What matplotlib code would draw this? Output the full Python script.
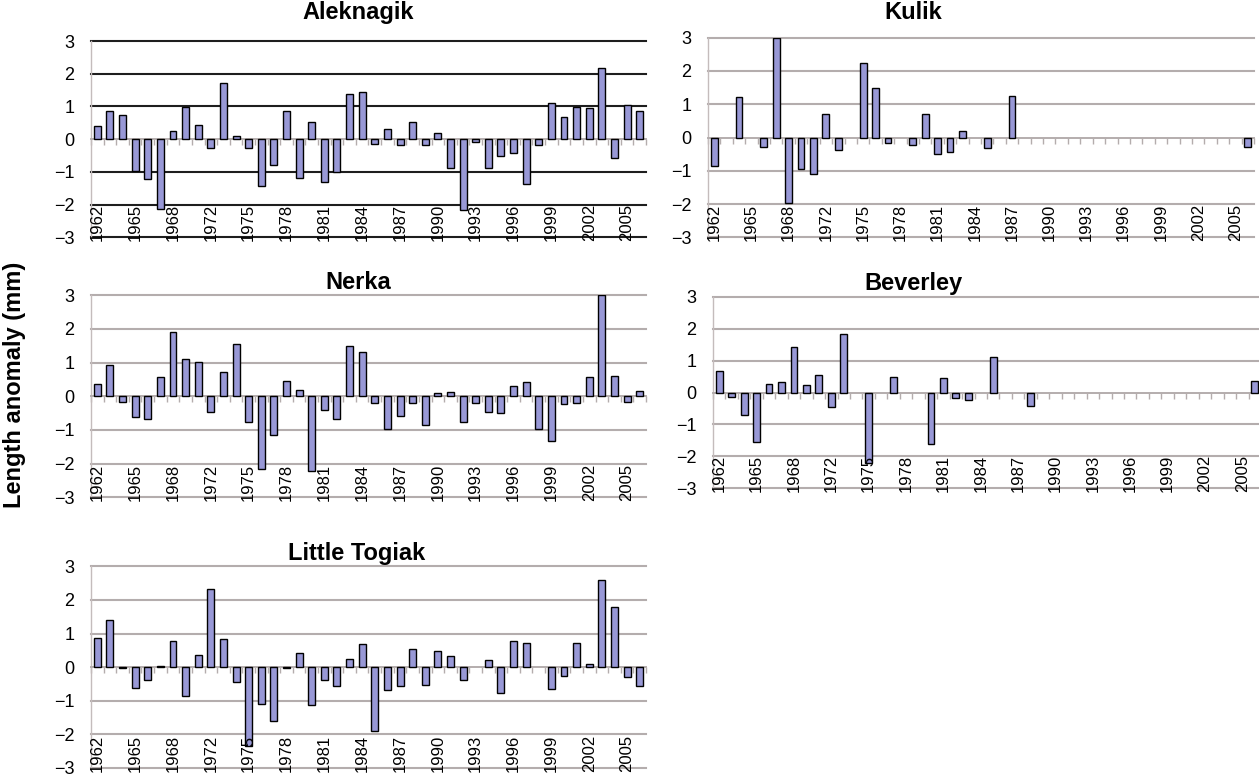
import numpy as np
import matplotlib
matplotlib.use('Agg')
import matplotlib.pyplot as plt

plt.rcParams['font.family'] = ['Liberation Sans', 'DejaVu Sans']

nan = np.nan

# category axis: one sampling year per bar (no 1970 sample)
years = list(range(1962, 1970)) + list(range(1971, 2007))

# length anomaly (mm) per lake, one value per year above
aleknagik = [0.41, 0.87, 0.73, -0.97, -1.22, -2.12, 0.24, 0.97, 0.44, -0.26,
	1.73, 0.10, -0.26, -1.44, -0.80, 0.87, -1.19, 0.53, -1.31, -1.00,
	1.37, 1.43, -0.14, 0.32, -0.18, 0.52, -0.18, 0.19, -0.88, -2.17,
	-0.08, -0.87, -0.51, -0.41, -1.36, -0.19, 1.12, 0.69, 0.98, 0.94,
	2.16, -0.57, 1.04, 0.87]

kulik = [-0.87, nan, 1.23, nan, -0.29, 3.00, -1.98, -0.94, -1.09, 0.70,
	-0.39, nan, 2.25, 1.50, -0.17, nan, -0.23, 0.70, -0.51, -0.45,
	0.19, nan, -0.33, nan, 1.24, nan, nan, nan, nan, nan,
	nan, nan, nan, nan, nan, nan, nan, nan, nan, nan,
	nan, nan, nan, -0.28]

nerka = [0.38, 0.94, -0.18, -0.62, -0.66, 0.56, 1.90, 1.10, 1.03, -0.48,
	0.71, 1.54, -0.77, -2.16, -1.14, 0.46, 0.19, -2.21, -0.40, -0.67,
	1.48, 1.31, -0.21, -0.97, -0.58, -0.21, -0.86, 0.11, 0.12, -0.75,
	-0.21, -0.46, -0.49, 0.30, 0.42, -0.96, -1.33, -0.23, -0.19, 0.56,
	3.00, 0.60, -0.18, 0.17]

beverley = [0.68, -0.13, -0.71, -1.55, 0.28, 0.33, 1.41, 0.23, 0.54, -0.44,
	1.84, nan, -2.22, nan, 0.47, nan, nan, -1.62, 0.46, -0.18,
	-0.23, nan, 1.12, nan, nan, -0.42, nan, nan, nan, nan,
	nan, nan, nan, nan, nan, nan, nan, nan, nan, nan,
	nan, nan, nan, 0.36]

littleTogiak = [0.88, 1.39, -0.03, -0.61, -0.37, 0.03, 0.77, -0.86, 0.36, 2.33,
	0.84, -0.44, -2.36, -1.09, -1.60, -0.02, 0.42, -1.14, -0.39, -0.56,
	0.24, 0.69, -1.90, -0.69, -0.56, 0.55, -0.53, 0.49, 0.33, -0.39,
	nan, 0.21, -0.76, 0.77, 0.73, nan, -0.64, -0.25, 0.71, 0.10,
	2.59, 1.79, -0.30, -0.56]

W, H = 1259, 776
BAR_COLOR = '#9898d6'
GRID_GRAY = '#b4adad'

fig = plt.figure(figsize=(W / 100, H / 100), dpi=100)

# rect given in pixels: left, top, right, bottom
def pxRect(left, top, right, bottom):
	return [left / W, 1 - bottom / H, (right - left) / W, (bottom - top) / H]

def drawPanel(rect, title, titleXY, values, gridColor):
	ax = fig.add_axes(pxRect(*rect))
	x = np.arange(len(years))
	ax.bar(x, values, width=0.55, color=BAR_COLOR, edgecolor='black',
		linewidth=1.0, zorder=3)
	ax.set_xlim(-0.5, len(years) - 0.5)
	ax.set_ylim(-3, 3)

	for y in [-3, -2, -1, 1, 2, 3]:
		ax.axhline(y, color=gridColor, lw=1.5, zorder=1, clip_on=False)

	# category axis sits on the zero line with ticks between bars
	ax.spines['bottom'].set_position(('data', 0))
	ax.spines['bottom'].set_color(GRID_GRAY)
	ax.spines['bottom'].set_linewidth(1.4)
	ax.spines['left'].set_color('#c4bcbc')
	ax.spines['left'].set_linewidth(1.0)
	ax.spines['top'].set_visible(False)
	ax.spines['right'].set_visible(False)
	ax.set_xticks(np.arange(-0.5, len(years), 1.0))
	ax.set_xticklabels([])
	ax.tick_params(axis='x', direction='out', length=4, width=1, color=GRID_GRAY)

	ax.set_yticks(range(-3, 4))
	ax.tick_params(axis='y', length=0, pad=12, labelsize=13)

	for i in range(0, len(years), 3):
		ax.text(i, -3.12, str(years[i]), rotation=90, ha='center', va='bottom',
			fontsize=12, zorder=4, clip_on=False)

	fig.text(titleXY[0] / W, 1 - titleXY[1] / H, title, ha='center',
		va='baseline', fontsize=17, fontweight='bold')
	return ax

drawPanel((91, 41, 646, 237.3), 'Aleknagik', (358, 19), aleknagik, '#1e1e1e')
drawPanel((708, 37.7, 1254, 237.3), 'Kulik', (913, 19), kulik, GRID_GRAY)
drawPanel((91, 295.3, 646, 497.3), 'Nerka', (358, 289), nerka, GRID_GRAY)
drawPanel((713, 296.7, 1261, 488.3), 'Beverley', (913, 290), beverley, GRID_GRAY)
drawPanel((91, 566.3, 646, 768), 'Little Togiak', (357, 560), littleTogiak, GRID_GRAY)

fig.text(15 / W, 1 - 385 / H, 'Length anomaly (mm)', rotation=90, ha='center',
	va='center', fontsize=17, fontweight='bold')

fig.savefig('out.png', dpi=100)
